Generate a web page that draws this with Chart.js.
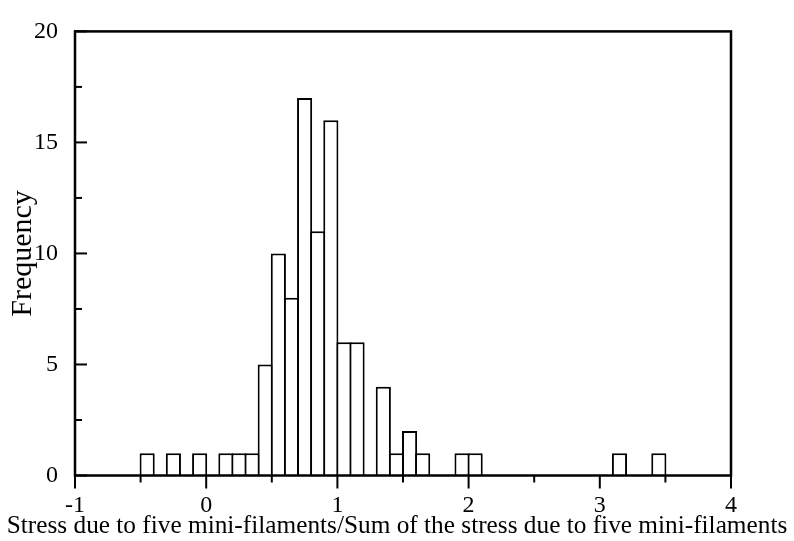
<!DOCTYPE html>
<html>
<head>
<meta charset="utf-8">
<script src="https://cdn.jsdelivr.net/npm/chart.js@4/dist/chart.umd.min.js"></script>
<style>
  html, body { margin: 0; padding: 0; background: #fff; }
  #wrap { width: 794px; height: 541px; position: relative; }
</style>
</head>
<body>
<div id="wrap"><canvas id="c" width="794" height="541"></canvas></div>
<script>
// Histogram bin centres (bin width 0.1) and counts
const binCenters = [
  -0.45, -0.35, -0.25, -0.15, -0.05, 0.05, 0.15, 0.25, 0.35, 0.45,
   0.55,  0.65,  0.75,  0.85,  0.95, 1.05, 1.15, 1.25, 1.35, 1.45,
   1.55,  1.65,  1.75,  1.85,  1.95, 2.05, 2.15, 2.25, 2.35, 2.45,
   2.55,  2.65,  2.75,  2.85,  2.95, 3.05, 3.15, 3.25, 3.35, 3.45
];
const counts = [
  1, 0, 1, 0, 1, 0, 1, 1, 1, 5,
  10, 8, 17, 11, 16, 6, 6, 0, 4, 1,
  2, 1, 0, 0, 1, 1, 0, 0, 0, 0,
  0, 0, 0, 0, 0, 0, 1, 0, 0, 1
];
const xRange = [-1, 4];
const yRange = [0, 20];
const xLabelStep = 1;
const yLabelStep = 5;
const xTitle = 'Stress due to five mini-filaments/Sum of the stress due to five mini-filaments';
const yTitle = 'Frequency';

const FONT = "'Liberation Serif', 'Times New Roman', serif";

const frameTicks = {
  id: 'frameTicks',
  afterDraw(chart) {
    const { ctx, chartArea: a, scales: { x, y } } = chart;
    ctx.save();
    ctx.strokeStyle = '#000';
    ctx.lineCap = 'butt';
    ctx.lineWidth = 2;
    // x ticks point outward (down)
    x.ticks.forEach(t => {
      const px = x.getPixelForValue(t.value);
      const isMajor = Math.abs(t.value / xLabelStep - Math.round(t.value / xLabelStep)) < 1e-9;
      const len = isMajor ? 13 : 7;
      ctx.beginPath();
      ctx.moveTo(px, a.bottom);
      ctx.lineTo(px, a.bottom + len);
      ctx.stroke();
    });
    // y ticks point inward (right)
    y.ticks.forEach(t => {
      const py = y.getPixelForValue(t.value);
      const isMajor = Math.abs(t.value / yLabelStep - Math.round(t.value / yLabelStep)) < 1e-9;
      const len = isMajor ? 12 : 7;
      ctx.beginPath();
      ctx.moveTo(a.left, py);
      ctx.lineTo(a.left + len, py);
      ctx.stroke();
    });
    // frame
    ctx.lineWidth = 2.5;
    ctx.strokeRect(a.left, a.top, a.right - a.left, a.bottom - a.top);
    ctx.restore();
  }
};

const TITLE_SIZE = 25.3;
const TITLE_PAD_TOP = -8;
const TITLE_PAD_BOTTOM = -0.7;
const titleBox = TITLE_SIZE * 1.2 + TITLE_PAD_TOP + TITLE_PAD_BOTTOM;

new Chart(document.getElementById('c'), {
  type: 'bar',
  data: {
    datasets: [{
      data: binCenters.map((c, i) => ({ x: c, y: counts[i] })),
      backgroundColor: '#ffffff',
      borderColor: '#000000',
      borderWidth: 2,
      borderSkipped: 'start',
      barPercentage: 1.153,
      categoryPercentage: 1
    }]
  },
  options: {
    responsive: false,
    animation: false,
    devicePixelRatio: 1,
    layout: { padding: { top: 19, right: 0, left: 0, bottom: 0 } },
    plugins: {
      legend: { display: false },
      tooltip: { enabled: false },
      title: {
        display: true,
        position: 'bottom',
        text: xTitle,
        color: '#000',
        font: { family: FONT, size: TITLE_SIZE, weight: 'normal', lineHeight: 1.2 },
        padding: { top: TITLE_PAD_TOP, bottom: TITLE_PAD_BOTTOM }
      }
    },
    scales: {
      x: {
        type: 'linear',
        min: xRange[0],
        max: xRange[1],
        offset: false,
        grid: { display: false, drawTicks: false },
        border: { display: false },
        ticks: {
          stepSize: 0.5,
          autoSkip: false,
          maxRotation: 0,
          padding: 16,
          color: '#000',
          font: { family: FONT, size: 24 },
          callback: v => (Math.abs(v / xLabelStep - Math.round(v / xLabelStep)) < 1e-9 ? String(Math.round(v)) : '')
        },
        afterFit: s => { s.height = 541 - 475.5 - titleBox; }
      },
      y: {
        min: yRange[0],
        max: yRange[1],
        grid: { display: false, drawTicks: false },
        border: { display: false },
        ticks: {
          stepSize: 2.5,
          autoSkip: false,
          padding: 17,
          color: '#000',
          font: { family: FONT, size: 24 },
          callback: v => (Math.abs(v / yLabelStep - Math.round(v / yLabelStep)) < 1e-9 ? String(Math.round(v)) : '')
        },
        title: {
          display: true,
          text: yTitle,
          color: '#000',
          font: { family: FONT, size: 30 },
          padding: { top: 5, bottom: 0 }
        },
        afterFit: s => { s.width = 75; }
      },
      yRight: {
        type: 'linear',
        position: 'right',
        display: true,
        min: yRange[0],
        max: yRange[1],
        grid: { display: false, drawTicks: false },
        border: { display: false },
        ticks: { display: false },
        afterFit: s => { s.width = 63; }
      }
    }
  },
  plugins: [frameTicks]
});
</script>
</body>
</html>
